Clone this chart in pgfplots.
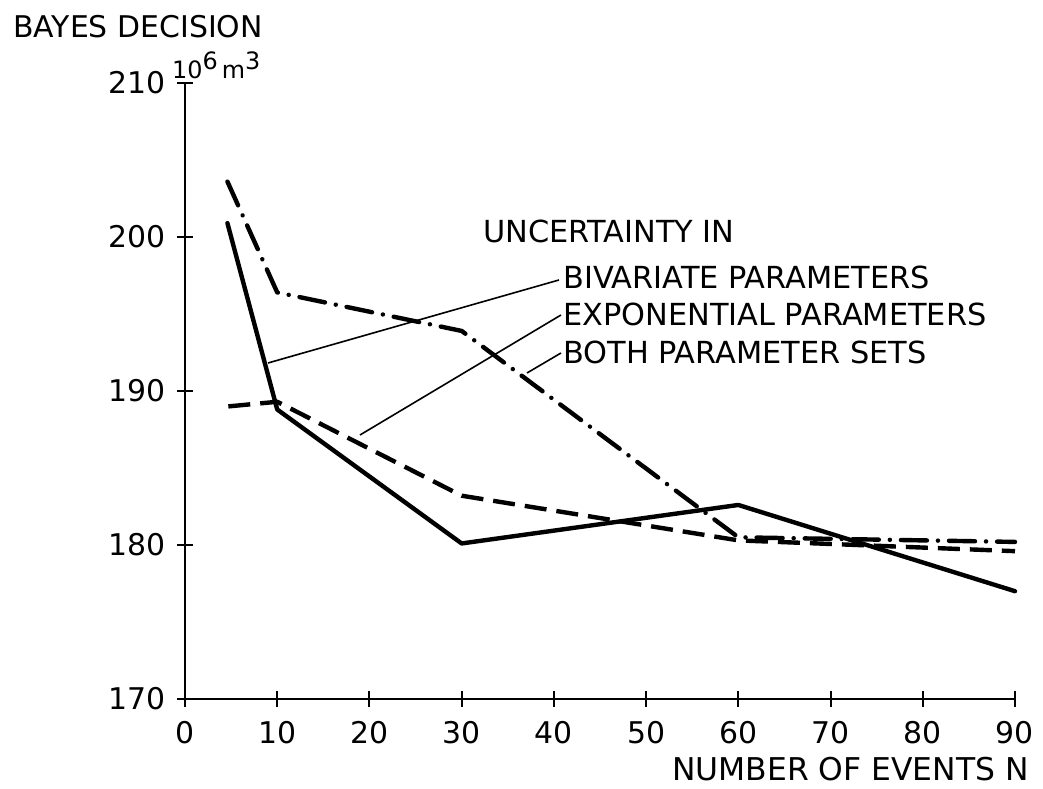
\documentclass[border=0pt]{standalone}
\usepackage{pgfplots}
\pgfplotsset{compat=1.18}
\usepackage{fontspec}
\setmainfont{DejaVu Sans}
\begin{document}
\begin{tikzpicture}
\useasboundingbox (-185bp,-90bp) rectangle (858bp,699bp);
\begin{axis}[
  scale only axis,
  width=830bp, height=616bp,
  xmin=0, xmax=90, ymin=170, ymax=210,
  axis lines=left,
  axis line style={-, line width=2.6bp},
  xtick={0,10,...,90}, ytick={170,180,...,210},
  tick align=center,
  major tick length=16bp,
  tick style={line width=2bp, black},
  /pgf/number format/assume math mode=true,
  ticklabel style={font=\fontsize{30}{36}\selectfont},
  yticklabel style={xshift=-8bp},
  xticklabel style={yshift=-11bp},
  clip=false,
]
\addplot[black, line width=4.4bp, line join=round, line cap=round] coordinates {
  (4.6,200.9) (10,188.8) (30,180.1) (60,182.6) (90,177.0)};
\addplot[black, line width=4.4bp, line join=round, dash pattern=on 22bp off 10bp] coordinates {
  (4.7,189.0) (10,189.3) (30,183.2) (60,180.3) (90,179.6)};
\addplot[black, line width=4.4bp, line join=round, line cap=round, dash pattern=on 26bp off 11bp on 0.1bp off 11bp] coordinates {
  (4.6,203.6) (10,196.4) (30,193.9) (60,180.5) (90,180.2)};
\end{axis}
\begin{scope}[x=1bp, y=-1bp, shift={(-185bp,699bp)}]
  \node[anchor=base west, inner sep=0pt, font=\fontsize{30}{36}\selectfont] at (13,38) {BAYES DECISION};
  \node[anchor=base west, inner sep=0pt, font=\fontsize{24}{28}\selectfont] at (172,79) {10\raisebox{9bp}{6}\,m\raisebox{9bp}{3}};
  \node[anchor=base west, inner sep=0pt, font=\fontsize{30.5}{36}\selectfont] at (483,243) {UNCERTAINTY IN};
  \node[anchor=base west, inner sep=0pt, font=\fontsize{30.5}{36}\selectfont] at (563,289) {BIVARIATE PARAMETERS};
  \node[anchor=base west, inner sep=0pt, font=\fontsize{30.5}{36}\selectfont] at (563,326) {EXPONENTIAL PARAMETERS};
  \node[anchor=base west, inner sep=0pt, font=\fontsize{30.5}{36}\selectfont] at (563,364) {BOTH PARAMETER SETS};
  \node[anchor=base east, inner sep=0pt, font=\fontsize{31.5}{38}\selectfont] at (1029,781) {NUMBER OF EVENTS N};
  \draw[line width=1.6bp] (559,280) -- (268,363);
  \draw[line width=1.6bp] (561,315) -- (360,435);
  \draw[line width=1.6bp] (561,353) -- (527,373);
\end{scope}
\end{tikzpicture}
\end{document}
